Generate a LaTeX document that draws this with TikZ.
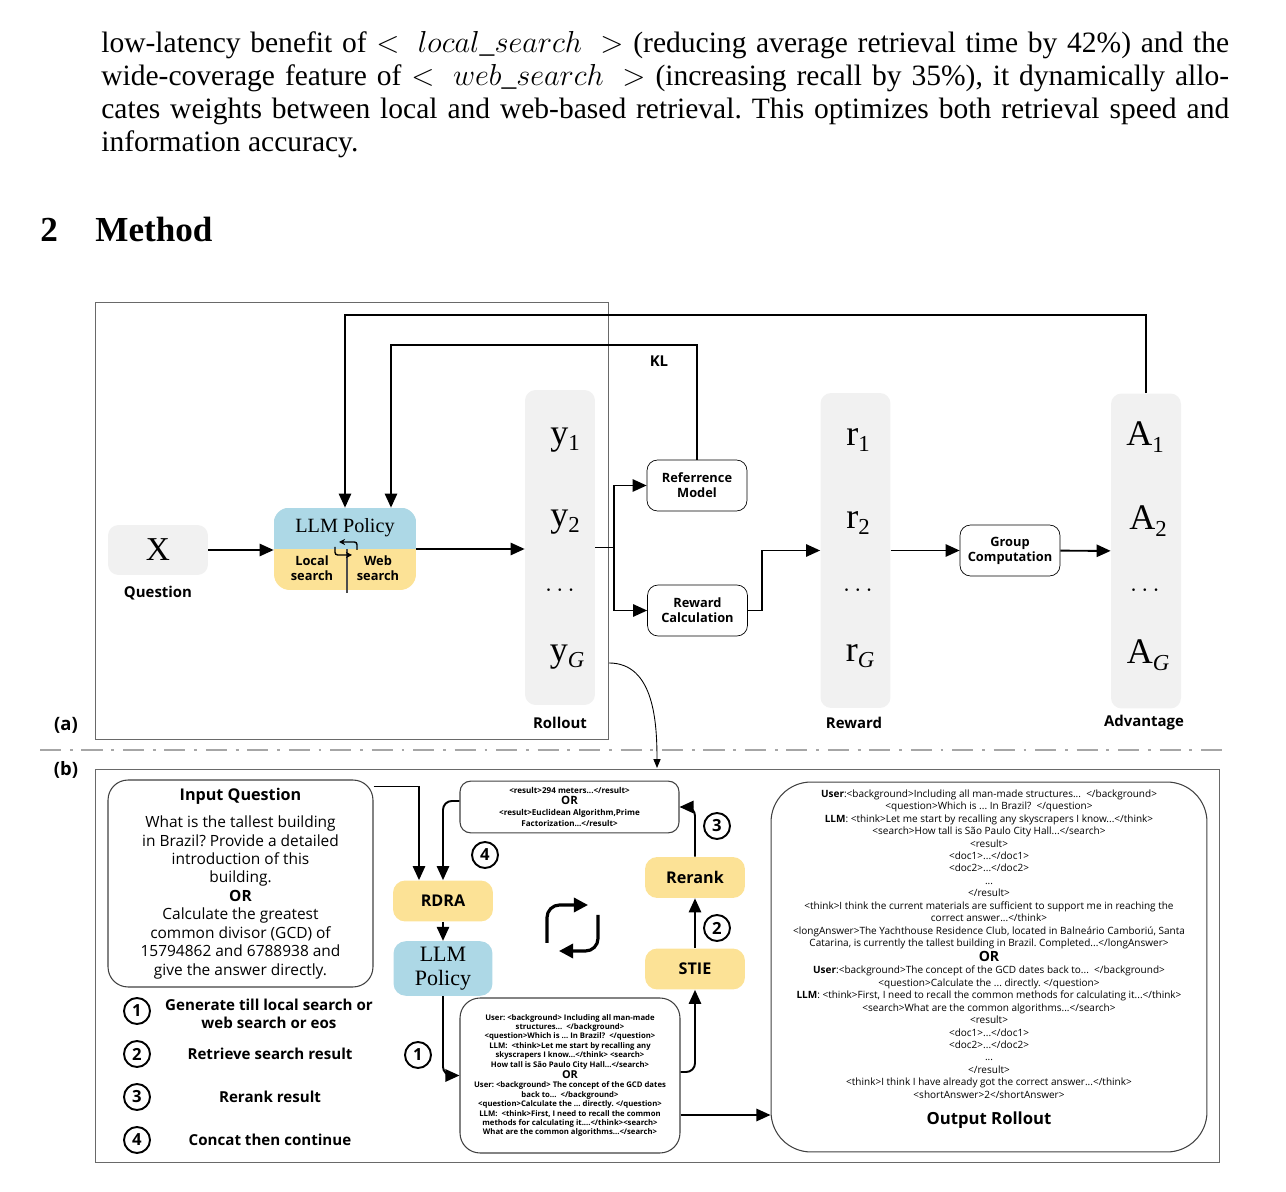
\documentclass[tikz,border=0pt]{standalone}
\usepackage{fontspec}
\setmainfont{Liberation Serif}
\newfontfamily\diafont{Open Sans}
\usetikzlibrary{arrows.meta,positioning,calc}

\definecolor{polblue}{RGB}{173,216,230}
\definecolor{srchyellow}{RGB}{252,226,150}
\definecolor{colgray}{RGB}{241,241,241}
\definecolor{framegray}{RGB}{105,105,105}

\tikzset{
  arr/.style={-{Triangle[length=8pt,width=7pt]},line width=1.1pt},
  col/.style={fill=colgray,rounded corners=6pt,minimum width=1.4cm,minimum height=6.3cm},
  colent/.style={font=\fontsize{20.5}{20}\selectfont},
  coldots/.style={font=\fontsize{14}{14}\selectfont},
  partxt/.style={anchor=base west,inner sep=0,font=\fontsize{16.8}{18.7}\selectfont},
  lbl/.style={font=\diafont\bfseries\fontsize{8.5}{10}\selectfont},
  smallbox/.style={draw,rounded corners=6pt,minimum width=2cm,minimum height=1.02cm,align=center,font=\diafont\bfseries\fontsize{7.3}{8.6}\selectfont},
  ybox/.style={fill=srchyellow,rounded corners=7pt,minimum width=2cm,minimum height=0.82cm,font=\diafont\bfseries\fontsize{9.2}{11}\selectfont},
  num/.style={circle,draw,line width=1.1pt,inner sep=0pt,minimum size=0.52cm,font=\diafont\bfseries\fontsize{9.5}{10}\selectfont},
  legtxt/.style={font=\diafont\bfseries\fontsize{8.6}{10.2}\selectfont,align=center},
}
\newcommand{\colsub}[2]{#1\raisebox{-0.4ex}{\fontsize{13}{13}\selectfont#2}}
\newcommand{\tagword}[1]{{\thickmuskip=11mu $<#1>$}}
\frenchspacing

\begin{document}
\begin{tikzpicture}[x=0.02cm,y=-0.02cm]
\useasboundingbox (0,0) rectangle (1286,1192);

% text above the figure
\node[partxt] (par1) at (101,53) {\makebox[22.56cm][s]{low-latency benefit of \tagword{local\_search} (reducing average retrieval time by 42\%) and the}};
\node[partxt] (par2) at (101,86) {\makebox[22.56cm][s]{wide-coverage feature of \tagword{web\_search} (increasing recall by 35\%), it dynamically allo-}};
\node[partxt] (par3) at (101,119) {\makebox[22.56cm][s]{cates weights between local and web-based retrieval. This optimizes both retrieval speed and}};
\node[partxt] (par4) at (101,152) {information accuracy.};
\node[anchor=base west,inner sep=0,font=\bfseries\fontsize{20}{24}\selectfont] (secnum) at (40,242) {2};
\node[anchor=base west,inner sep=0,font=\bfseries\fontsize{20}{24}\selectfont] (sectitle) at (95,242) {Method};

% (a) training loop
\node[draw=framegray,line width=0.6pt,minimum width=10.28cm,minimum height=8.76cm,inner sep=0] (fra) at (352,521) {};
\node[col] (roll) at (560,547.5) {};
\node[col] (rew) at (855.5,550.5) {};
\node[col] (adv) at (1146,551) {};
\node[fill=colgray,rounded corners=6pt,minimum width=2cm,minimum height=1cm,font=\fontsize{19}{19}\selectfont] (xq) at (158,550) {X};
\node[lbl] (qlbl) at (158,593) {Question};

\node[fill=srchyellow,rounded corners=9pt,minimum width=2.84cm,minimum height=1.64cm] (pol) at (345,549) {};
\begin{scope}
\clip[rounded corners=9pt] (pol.south west) rectangle (pol.north east);
\fill[polblue] (pol.north west) rectangle (pol.east);
\end{scope}
\node[font=\fontsize{11.5}{12}\selectfont] (poltxt) at (345,528) {LLM Policy};
\node[font=\diafont\bfseries\fontsize{7.3}{8.6}\selectfont,align=center] (loc) at (312,568) {Local\\search};
\node[font=\diafont\bfseries\fontsize{7.3}{8.6}\selectfont,align=center] (web) at (378,568) {Web\\search};
\draw[black!70,line width=0.6pt] (347,549) -- (347,593);
\draw[line width=0.8pt,rounded corners=1.5pt,-{Stealth[length=3.5pt,width=3.5pt]}] (357,550) -- (357,542) -- (339,542);
\draw[line width=0.8pt,rounded corners=1.5pt,-{Stealth[length=3.5pt,width=3.5pt]}] (335,547) -- (335,555) -- (352,555);

\node[colent] (y1) at (565,440) {\colsub{y}{1}};
\node[colent] (y2) at (565,522) {\colsub{y}{2}};
\node[coldots] (ydots) at (560,591) {$\cdots$};
\node[colent] (yg) at (567,657) {\colsub{y}{\itshape G}};
\node[colent] (r1) at (858,440) {\colsub{r}{1}};
\node[colent] (r2) at (858,523) {\colsub{r}{2}};
\node[coldots] (rdots) at (858,591) {$\cdots$};
\node[colent] (rg) at (860,656) {\colsub{r}{\itshape G}};
\node[colent] (a1) at (1145,437) {\colsub{A}{1}};
\node[colent] (a2) at (1148,521) {\colsub{A}{2}};
\node[coldots] (adots) at (1145,591) {$\cdots$};
\node[colent] (ag) at (1148,655) {\colsub{A}{\itshape G}};
\node[lbl] (rolllbl) at (560,723) {Rollout};
\node[lbl] (rewlbl) at (854,723) {Reward};
\node[lbl] (advlbl) at (1144,723) {Advantage};

\node[smallbox] (ref) at (697,485.5) {Referrence\\Model};
\node[smallbox] (rcalc) at (697.5,610.5) {Reward\\Calculation};
\node[smallbox] (grp) at (1010,550.5) {Group\\Computation};
\node[lbl] (kl) at (659,361) {KL};

\draw[arr] (xq.east) -- (xq.east -| pol.west);
\draw[arr] (pol.east) -- (pol.east -| roll.west);
\coordinate (split) at (614,547.5);
\draw[line width=1.1pt] (roll.east) -- (split);
\draw[arr] (split) |- (ref.west);
\draw[arr] (split) |- (rcalc.west);
\coordinate (rj) at (762,550.5);
\draw[arr] (rcalc.east) -| (rj) -- (rew.west);
\draw[arr] (rew) -- (grp);
\draw[arr] (grp) -- (adv);
\coordinate (kltop) at (697,345);
\coordinate (polkl) at ($(pol.north)+(46,0)$);
\draw[arr] (ref.north) -- (kltop) -| (polkl);
\coordinate (advtop) at (1146,315);
\draw[arr] (adv.north) -- (advtop) -| (pol.north);

% separator
\coordinate (sepl) at (40,750);
\coordinate (sepr) at (1222,750);
\draw[black!35,line width=1.6pt,dash pattern=on 12pt off 5pt on 1.6pt off 5pt] (sepl) -- (sepr);
\node[font=\diafont\bfseries\fontsize{10.5}{12}\selectfont] (pa) at (66,725) {(a)};
\node[font=\diafont\bfseries\fontsize{10.5}{12}\selectfont] (pb) at (66,770) {(b)};

% (b) rollout with retrieval
\node[draw=framegray,line width=0.6pt,minimum width=22.5cm,minimum height=7.86cm,inner sep=0] (frb) at (657.5,966) {};
\coordinate (cstart) at (609,663);
\coordinate (cend) at (657,768);
\draw[-{Triangle[length=5pt,width=4pt]},line width=0.5pt] (cstart) to[out=0,in=90] (cend);

\node[draw=black!75,line width=0.6pt,rounded corners=0.4cm,minimum width=5.3cm,minimum height=4.14cm,align=center,font=\diafont\fontsize{8.8}{10.5}\selectfont] (inq) at (240.5,883.5) {{\bfseries\fontsize{9.2}{11}\selectfont Input Question}\\[5pt]What is the tallest building\\in Brazil? Provide a detailed\\introduction of this\\building.\\{\bfseries OR}\\Calculate the greatest\\common divisor (GCD) of\\15794862 and 6788938 and\\give the answer directly.};
\node[draw=black!75,line width=0.6pt,rounded corners=6pt,minimum width=4.38cm,minimum height=1cm,align=center,font=\diafont\bfseries\fontsize{4.6}{6.4}\selectfont] (res) at (569.5,807) {<result>294 meters...</result>\\{\fontsize{6.5}{6.5}\selectfont OR}\\<result>Euclidean Algorithm,Prime\\Factorization...</result>};
\node[ybox] (rdra) at (443,901) {RDRA};
\node[fill=polblue,rounded corners=7pt,minimum width=1.98cm,minimum height=1.02cm,align=center,font=\fontsize{12.5}{13.5}\selectfont] (pol2) at (443,968.5) {LLM\\Policy};
\node[draw=black!75,line width=0.6pt,rounded corners=0.4cm,minimum width=4.4cm,minimum height=3.1cm,align=center,font=\diafont\bfseries\fontsize{4.4}{5.35}\selectfont] (qry) at (570,1075.5) {User: <background> Including all man-made\\structures...\ \ </background>\\<question>Which is ... In Brazil?\ \ </question>\\LLM:\ \ <think>Let me start by recalling any\\skyscrapers I know...</think> <search>\\How tall is São Paulo City Hall...</search>\\{\fontsize{6.2}{6.2}\selectfont OR}\\User: <background> The concept of the GCD dates\\back to...\ \ </background>\\<question>Calculate the ... directly. </question>\\LLM:\ \ <think>First, I need to recall the common\\methods for calculating it....</think><search>\\What are the common algorithms...</search>};
\node[ybox] (stie) at (695,969) {STIE};
\node[ybox] (rer) at (695,877.5) {Rerank};
\node[draw=black!75,line width=0.6pt,rounded corners=0.8cm,minimum width=8.72cm,minimum height=7.4cm] (outr) at (989,967) {};
\node[align=center,font=\diafont\fontsize{5.7}{7.1}\selectfont] (outtxt) at (989,944) {{\bfseries User}:<background>Including all man-made structures...\ \ </background>\\<question>Which is ... In Brazil?\ \ </question>\\{\bfseries LLM}: <think>Let me start by recalling any skyscrapers I know...</think>\\<search>How tall is São Paulo City Hall...</search>\\<result>\\<doc1>...</doc1>\\<doc2>...</doc2>\\...\\</result>\\<think>I think the current materials are sufficient to support me in reaching the\\correct answer...</think>\\<longAnswer>The Yachthouse Residence Club, located in Balneário Camboriú, Santa\\Catarina, is currently the tallest building in Brazil. Completed...</longAnswer>\\{\bfseries\fontsize{8}{8}\selectfont OR}\\{\bfseries User}:<background>The concept of the GCD dates back to...\ \ </background>\\<question>Calculate the ... directly. </question>\\{\bfseries LLM}: <think>First, I need to recall the common methods for calculating it...</think>\\<search>What are the common algorithms...</search>\\<result>\\<doc1>...</doc1>\\<doc2>...</doc2>\\...\\</result>\\<think>I think I have already got the correct answer...</think>\\<shortAnswer>2</shortAnswer>};
\node[font=\diafont\bfseries\fontsize{9.5}{11}\selectfont] (outlbl) at (989,1120) {Output Rollout};

\draw[arr] ([yshift=-0.14cm]inq.north east) -| ([xshift=-0.48cm]rdra.north);
\draw[arr,rounded corners=5pt] ([yshift=0.12cm]res.west) -| (rdra.north);
\draw[arr] (rdra) -- (pol2);
\draw[arr,rounded corners=5pt] (pol2.south) |- (qry.west);
\draw[arr,rounded corners=5pt] ([yshift=0.07cm]qry.east) -| (stie.south);
\draw[arr] (stie) -- (rer);
\draw[arr,rounded corners=5pt] (rer.north) |- (res.east);
\coordinate (qo) at ([yshift=-0.79cm]qry.east);
\draw[arr] (qo) -- (qo -| outr.west);

% loop icon
\draw[line width=1.8pt,rounded corners=0.25cm,-{Triangle[length=8pt,width=8pt]}] (547,943) -- (547,905) -- (588,905);
\draw[line width=1.8pt,rounded corners=0.25cm,-{Triangle[length=8pt,width=8pt]}] (598,915) -- (598,951) -- (559,951);

% step numbers
\node[num] (n1d) at (418,1055) {1};
\node[num] (n2d) at (717,928) {2};
\node[num] (n3d) at (717,826) {3};
\node[num] (n4d) at (485,855) {4};

% legend
\node[num] (n1) at (137,1011) {1};
\node[num] (n2) at (137,1054) {2};
\node[num] (n3) at (137,1097) {3};
\node[num] (n4) at (137,1140) {4};
\node[legtxt] (t1) at (269,1014) {Generate till local search or\\web search or eos};
\node[legtxt] (t2) at (270,1054) {Retrieve search result};
\node[legtxt] (t3) at (270,1097) {Rerank result};
\node[legtxt] (t4) at (270,1140) {Concat then continue};
\end{tikzpicture}
\end{document}
